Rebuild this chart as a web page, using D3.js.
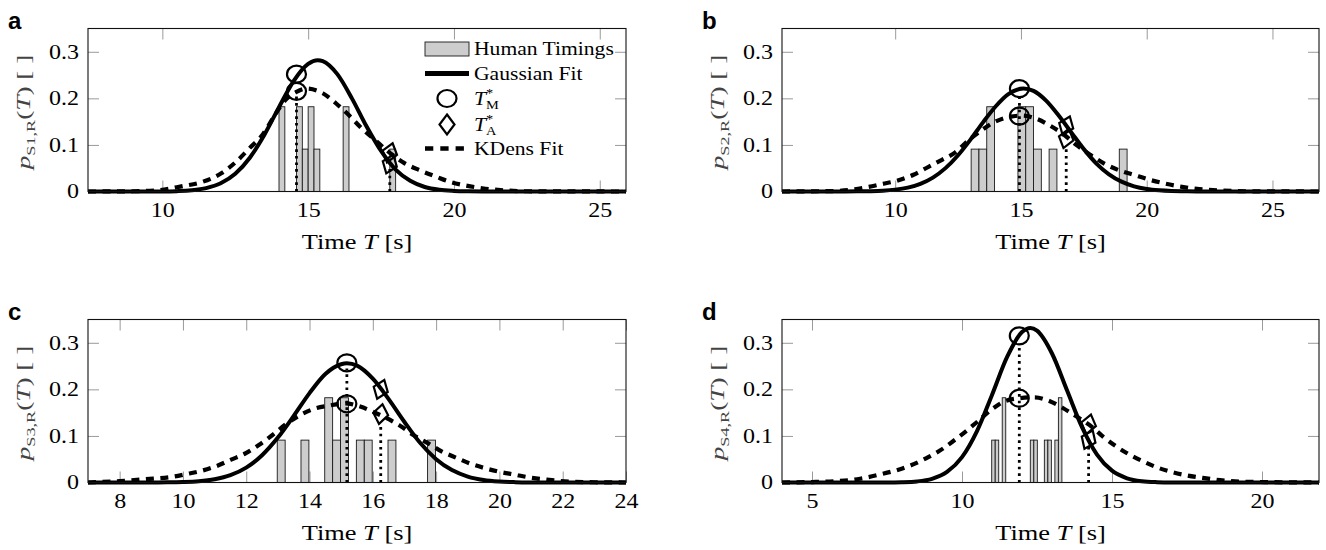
<!DOCTYPE html>
<html lang="en">
<head>
<meta charset="UTF-8">
<title>Timing distributions</title>
<script src="https://d3js.org/d3.v7.min.js"></script>
<style>
  body { margin: 0; background: #fff; }
  svg { display: block; }
</style>
</head>
<body>
<script>
const W = 1326, H = 550;
const SERIF = "'Liberation Serif', 'Times New Roman', serif";
const SANS = "'Liberation Sans', Arial, sans-serif";
const STRETCH = 1.2;          // the reference text is a little wide
const PLOT_H = 163;
const LEFTS = [88, 782, 88, 782];
const RIGHTS = [626, 1319, 626, 1319];
const TOPS = [28.5, 28.5, 319.5, 319.5];

// ---- data ----
const panelLetters = ["a", "b", "c", "d"];
const subLabels = ["S1,R", "S2,R", "S3,R", "S4,R"];
const yTicks = [0, 0.1, 0.2, 0.3];
const xDomains = [[7.45, 25.9], [5.5, 26.85], [7, 24], [4, 21.9]];
const xTicks = [[10, 15, 20, 25], [10, 15, 20, 25], [8, 10, 12, 14, 16, 18, 20, 22, 24], [5, 10, 15, 20]];
const binWidths = [0.2, 0.31, 0.25, 0.117];

// human timings: [bin left edge, relative frequency]
const barsA = [[14.0, 0.182], [14.6, 0.182], [14.8, 0.091], [15.0, 0.182], [15.2, 0.091], [16.2, 0.182], [17.8, 0.091]];
const barsB = [[13.02, 0.091], [13.33, 0.091], [13.64, 0.182], [14.88, 0.182], [15.19, 0.182], [15.50, 0.091], [16.12, 0.091], [18.91, 0.091]];
const barsC = [[12.98, 0.091], [13.73, 0.091], [14.48, 0.182], [14.73, 0.091], [14.98, 0.182], [15.48, 0.091], [15.73, 0.091], [16.48, 0.091], [17.73, 0.091]];
const barsD = [[10.99, 0.091], [11.107, 0.091], [11.341, 0.182], [12.277, 0.091], [12.394, 0.091], [12.745, 0.091], [12.862, 0.091], [13.096, 0.091], [13.213, 0.182]];

// gaussian fits: [T, p]
const gaussA = [[7.45, 0], [10, 0.0002], [10.5, 0.0008], [11, 0.0026], [11.5, 0.0072], [12, 0.0176], [12.5, 0.0381], [13, 0.0726], [13.5, 0.122], [14, 0.181], [14.5, 0.237], [15, 0.274], [15.33, 0.282], [15.5, 0.280], [16, 0.252], [16.5, 0.200], [17, 0.140], [17.5, 0.087], [18, 0.047], [18.5, 0.023], [19, 0.0097], [19.5, 0.0036], [20, 0.0012], [20.5, 0.0003], [21, 0], [25.9, 0]];
const gaussB = [[5.5, 0], [8, 0.0001], [8.5, 0.0003], [9, 0.0007], [9.5, 0.0017], [10, 0.004], [10.5, 0.0084], [11, 0.0165], [11.5, 0.0299], [12, 0.0502], [12.5, 0.0779], [13, 0.1119], [13.5, 0.149], [14, 0.183], [14.5, 0.209], [15.1, 0.221], [15.5, 0.216], [16, 0.195], [16.5, 0.163], [17, 0.127], [17.5, 0.091], [18, 0.060], [18.5, 0.037], [19, 0.0211], [19.5, 0.0111], [20, 0.0054], [20.5, 0.0025], [21, 0.001], [21.5, 0.0004], [22, 0], [26.85, 0]];
const gaussC = [[7, 0], [9, 0.0001], [9.5, 0.0003], [10, 0.001], [10.5, 0.0028], [11, 0.0071], [11.5, 0.0158], [12, 0.032], [12.5, 0.0585], [13, 0.0964], [13.5, 0.143], [14, 0.192], [14.5, 0.233], [15, 0.254], [15.18, 0.256], [15.5, 0.251], [16, 0.223], [16.5, 0.179], [17, 0.130], [17.5, 0.0847], [18, 0.050], [18.5, 0.0266], [19, 0.0128], [19.5, 0.0055], [20, 0.0022], [20.5, 0.0008], [21, 0.0002], [21.5, 0], [24, 0]];
const gaussD = [[4, 0], [7.5, 0.0001], [8, 0.0006], [8.5, 0.0023], [9, 0.0079], [9.5, 0.0227], [10, 0.0546], [10.5, 0.1105], [11, 0.188], [11.5, 0.269], [12, 0.323], [12.28, 0.332], [12.5, 0.326], [13, 0.277], [13.5, 0.198], [14, 0.119], [14.5, 0.060], [15, 0.0254], [15.5, 0.0091], [16, 0.0027], [16.5, 0.0007], [17, 0.0001], [17.5, 0], [21.9, 0]];

// kernel density fits: [T, p]
const kdensA = [[7.45, 0], [9, 0.0005], [9.9, 0.003], [10.65, 0.011], [11.39, 0.021], [12.02, 0.039], [12.53, 0.064], [12.99, 0.093], [13.45, 0.123], [13.79, 0.157], [14.2, 0.195], [14.6, 0.214], [14.93, 0.221], [15.5, 0.211], [15.96, 0.189], [16.41, 0.163], [16.78, 0.139], [17.3, 0.11], [17.8, 0.083], [18.3, 0.061], [18.81, 0.046], [19.38, 0.032], [19.9, 0.02], [20.4, 0.013], [20.97, 0.007], [21.6, 0.003], [22.5, 0.0005], [25.9, 0]];
const kdensB = [[5.5, 0], [7.5, 0.001], [8.3, 0.004], [8.87, 0.009], [9.47, 0.016], [10.07, 0.023], [10.73, 0.036], [11.26, 0.051], [11.86, 0.068], [12.39, 0.084], [12.85, 0.107], [13.35, 0.128], [13.84, 0.146], [14.44, 0.159], [15.04, 0.163], [15.63, 0.156], [16.2, 0.14], [16.69, 0.123], [17.2, 0.1], [17.75, 0.079], [18.28, 0.061], [18.88, 0.046], [19.47, 0.036], [20.13, 0.025], [20.73, 0.017], [21.4, 0.01], [22.1, 0.005], [23, 0.002], [24, 0.0005], [26.85, 0]];
const kdensC = [[7, 0], [8, 0.003], [8.8, 0.007], [9.74, 0.013], [10.1, 0.018], [10.58, 0.025], [11.05, 0.035], [11.52, 0.049], [11.99, 0.063], [12.41, 0.081], [12.83, 0.102], [13.25, 0.125], [13.66, 0.143], [14.14, 0.158], [14.61, 0.165], [15.13, 0.17], [15.6, 0.163], [16.0, 0.152], [16.44, 0.138], [16.86, 0.122], [17.28, 0.102], [17.75, 0.084], [18.17, 0.067], [18.64, 0.053], [19.06, 0.041], [19.53, 0.031], [20, 0.023], [20.47, 0.017], [20.94, 0.011], [21.5, 0.006], [22.2, 0.002], [23, 0.0005], [24, 0]];
const kdensD = [[4, 0], [5.0, 0.001], [5.8, 0.003], [6.6, 0.008], [7.25, 0.017], [7.8, 0.026], [8.3, 0.037], [8.8, 0.052], [9.25, 0.068], [9.69, 0.088], [10.13, 0.11], [10.52, 0.131], [10.97, 0.156], [11.41, 0.174], [11.91, 0.181], [12.41, 0.183], [12.91, 0.175], [13.36, 0.16], [13.86, 0.14], [14.36, 0.118], [14.69, 0.099], [15.13, 0.078], [15.58, 0.06], [16.08, 0.044], [16.52, 0.032], [17.02, 0.022], [17.52, 0.015], [18.02, 0.01], [18.6, 0.005], [19.5, 0.0015], [21.9, 0]];

// T*_M and T*_A: [T, value on gaussian, value on kdens, top of dotted line]
const markersM = [[14.6, 0.252, 0.215, 0.222], [14.94, 0.221, 0.162, 0.21], [15.18, 0.257, 0.169, 0.245], [11.91, 0.315, 0.181, 0.298]];
const markersA = [[17.8, 0.059, 0.083, 0.058], [16.8, 0.141, 0.114, 0.093], [16.25, 0.2, 0.147, 0.125], [14.22, 0.092, 0.125, 0.082]];

const allBars = [barsA, barsB, barsC, barsD];
const allGauss = [gaussA, gaussB, gaussC, gaussD];
const allKdens = [kdensA, kdensB, kdensC, kdensD];

const svg = d3.select("body").append("svg")
    .attr("width", W)
    .attr("height", H)
    .style("background", "#fff");

function ellipse(g, cx, cy) {
    g.append("ellipse")
        .attr("cx", cx).attr("cy", cy)
        .attr("rx", 9.5).attr("ry", 8.5)
        .attr("fill", "none").attr("stroke", "#000").attr("stroke-width", 2.2);
}

function diamond(g, cx, cy, angle) {
    g.append("path")
        .attr("d", "M0,-10L7.5,0L0,10L-7.5,0Z")
        .attr("transform", `translate(${cx},${cy}) rotate(${angle})`)
        .attr("fill", "none").attr("stroke", "#000").attr("stroke-width", 2.2)
        .attr("stroke-linejoin", "miter");
}

// screen angle of a curve at T; the markers lean a bit with the curve
function tangent(curve, t, x, y) {
    const j = d3.bisector(d => d[0]).left(curve, t);
    const p0 = curve[Math.max(j - 1, 0)];
    const p1 = curve[Math.min(j, curve.length - 1)];
    return Math.atan2(y(p1[1]) - y(p0[1]), x(p1[0]) - x(p0[0])) * 180 / Math.PI;
}

function stretchedText(g, tx, ty, size, anchor) {
    return g.append("text")
        .attr("transform", `translate(${tx},${ty}) scale(${STRETCH},1)`)
        .attr("text-anchor", anchor || "start")
        .style("font-family", SERIF)
        .style("font-size", size + "px")
        .attr("fill", "#000");
}

function drawPanel(i) {
    const left = LEFTS[i], right = RIGHTS[i], top = TOPS[i], bottom = top + PLOT_H;
    const x = d3.scaleLinear().domain(xDomains[i]).range([left, right]);
    const y = d3.scaleLinear().domain([0, 0.35]).range([bottom, top]);
    const g = svg.append("g");

    g.append("clipPath").attr("id", "clip" + i)
        .append("rect")
        .attr("x", left).attr("y", top - 12)
        .attr("width", right - left).attr("height", PLOT_H + 16);

    // axes, ticks pointing inward on all four sides
    const fmtY = d => d === 0 ? "0" : d3.format(".1f")(d);
    const axB = g.append("g").attr("transform", `translate(0,${bottom})`)
        .call(d3.axisBottom(x).tickValues(xTicks[i]).tickSizeInner(-11).tickSizeOuter(0).tickPadding(11));
    const axL = g.append("g").attr("transform", `translate(${left},0)`)
        .call(d3.axisLeft(y).tickValues(yTicks).tickFormat(fmtY).tickSizeInner(-11).tickSizeOuter(0).tickPadding(9));
    g.append("g").attr("transform", `translate(0,${top})`)
        .call(d3.axisTop(x).tickValues(xTicks[i]).tickSizeInner(-11).tickSizeOuter(0).tickFormat(""));
    g.append("g").attr("transform", `translate(${right},0)`)
        .call(d3.axisRight(y).tickValues(yTicks).tickSizeInner(-11).tickSizeOuter(0).tickFormat(""));
    g.selectAll(".domain").remove();
    g.selectAll(".tick line").attr("stroke", "#9a9a9a").attr("stroke-width", 1);
    g.selectAll(".tick text")
        .style("font-family", SERIF).style("font-size", "20px").attr("fill", "#000");
    axB.selectAll("text").attr("transform", `scale(${STRETCH},1)`);
    axL.selectAll("text").attr("x", -9 / STRETCH).attr("transform", `scale(${STRETCH},1)`);

    const plot = g.append("g").attr("clip-path", `url(#clip${i})`);

    // histogram of human timings
    plot.selectAll("rect.bar")
        .data(allBars[i])
        .enter()
        .append("rect")
        .attr("class", "bar")
        .attr("x", d => x(d[0]))
        .attr("width", d => x(d[0] + binWidths[i]) - x(d[0]))
        .attr("y", d => y(d[1]))
        .attr("height", d => y(0) - y(d[1]))
        .attr("fill", "#cdcdcd")
        .attr("stroke", "#1a1a1a")
        .attr("stroke-width", 0.9);

    const line = d3.line().x(d => x(d[0])).y(d => y(d[1])).curve(d3.curveMonotoneX);

    plot.append("path").datum(allGauss[i])
        .attr("d", line)
        .attr("fill", "none").attr("stroke", "#000").attr("stroke-width", 4);

    plot.append("path").datum(allKdens[i])
        .attr("d", line)
        .attr("fill", "none").attr("stroke", "#000").attr("stroke-width", 4.2)
        .attr("stroke-dasharray", "8,6.5");

    // dotted drop lines at T*_M and T*_A
    [markersM[i], markersA[i]].forEach(m => {
        plot.append("line")
            .attr("x1", x(m[0])).attr("x2", x(m[0]))
            .attr("y1", y(0)).attr("y2", y(m[3]))
            .attr("stroke", "#000").attr("stroke-width", 2.8)
            .attr("stroke-dasharray", "2.6,4");
    });

    const mk = g.append("g");
    const mM = markersM[i], mA = markersA[i];
    ellipse(mk, x(mM[0]), y(mM[1]));
    ellipse(mk, x(mM[0]), y(mM[2]));
    diamond(mk, x(mA[0]), y(mA[1]), 0.4 * tangent(allGauss[i], mA[0], x, y));
    diamond(mk, x(mA[0]), y(mA[2]), 0.4 * tangent(allKdens[i], mA[0], x, y));

    // frame
    g.append("rect")
        .attr("x", left).attr("y", top)
        .attr("width", right - left).attr("height", PLOT_H)
        .attr("fill", "none").attr("stroke", "#111").attr("stroke-width", 1.1);

    // panel letter
    g.append("text")
        .attr("x", left - 80).attr("y", top)
        .style("font-family", SANS).style("font-weight", "bold").style("font-size", "24px")
        .text(panelLetters[i]);

    // x label
    const xl = stretchedText(g, (left + right) / 2, bottom + 57, 22, "middle");
    xl.append("tspan").text("Time ");
    xl.append("tspan").style("font-style", "italic").text("T");
    xl.append("tspan").text(" [s]");

    // y label
    const yl = g.append("text")
        .attr("transform", `translate(${left - 58},${(top + bottom) / 2 + 2}) rotate(-90) scale(1.3,0.9)`)
        .attr("text-anchor", "middle")
        .style("font-family", SERIF).style("font-size", "21px")
        .attr("fill", "#444");
    yl.append("tspan").style("font-style", "italic").text("p");
    yl.append("tspan").attr("dy", 5).style("font-size", "14px").text(subLabels[i]);
    yl.append("tspan").attr("dy", -5).text("(");
    yl.append("tspan").style("font-style", "italic").text("T");
    yl.append("tspan").text(") [\u2005]");

    if (i === 0) drawLegend(g, left, top);
}

function drawLegend(g, left, top) {
    const sx = left + 359, tx = left + 386;
    const rows = [top + 20.5, top + 45, top + 70, top + 96, top + 120];

    g.append("rect")
        .attr("x", sx - 22).attr("y", rows[0] - 7)
        .attr("width", 44).attr("height", 14)
        .attr("fill", "#cdcdcd").attr("stroke", "#1a1a1a").attr("stroke-width", 0.9);
    g.append("line")
        .attr("x1", sx - 22).attr("x2", sx + 22)
        .attr("y1", rows[1]).attr("y2", rows[1])
        .attr("stroke", "#000").attr("stroke-width", 5);
    ellipse(g, sx, rows[2]);
    diamond(g, sx, rows[3], 0);
    g.append("line")
        .attr("x1", sx - 22).attr("x2", sx + 18)
        .attr("y1", rows[4]).attr("y2", rows[4])
        .attr("stroke", "#000").attr("stroke-width", 4.5)
        .attr("stroke-dasharray", "8.3,7");

    stretchedText(g, tx, rows[0] + 6, 18).text("Human Timings");
    stretchedText(g, tx, rows[1] + 6, 18).text("Gaussian Fit");
    ["M", "A"].forEach((s, k) => {
        const t = stretchedText(g, tx, rows[2 + k] + 6.5, 18);
        t.append("tspan").style("font-style", "italic").text("T");
        t.append("tspan").attr("dy", -8).style("font-size", "12px").text("*");
        t.append("tspan").attr("dx", -6).attr("dy", 12).style("font-size", "12px").text(s);
    });
    stretchedText(g, tx, rows[4] + 6, 18).text("KDens Fit");
}

for (let i = 0; i < 4; i++) drawPanel(i);
</script>
</body>
</html>
